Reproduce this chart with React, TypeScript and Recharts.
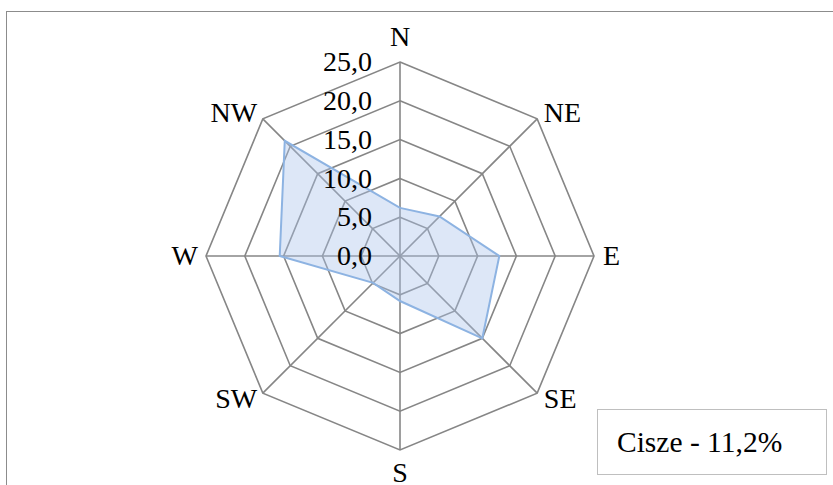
import React from 'react';
import { RadarChart, Radar, PolarGrid, PolarAngleAxis, PolarRadiusAxis } from 'recharts';

const directions = ['N', 'NE', 'E', 'SE', 'S', 'SW', 'W', 'NW'];
const frequencies = [6.2, 7.2, 12.8, 15.0, 5.8, 4.9, 15.5, 21.0];
const radiusTicks = [0, 5, 10, 15, 20, 25];
const calmLabel = 'Cisze - 11,2%';

const data = directions.map((d, i) => ({ dir: d, value: frequencies[i] }));

const FONT = 'Liberation Serif, Times New Roman, serif';
const FS = 28;

const fmt = (v: number) => v.toFixed(1).replace('.', ',');

const AngleTick = (props: any) => {
  const { x, y, payload, index } = props;
  const i = typeof index === 'number' ? index : directions.indexOf(payload?.value);
  const a = ((90 - 45 * i) * Math.PI) / 180;
  const dx = Math.cos(a);
  const dy = -Math.sin(a);
  let anchor: 'start' | 'middle' | 'end' = 'middle';
  if (dx > 0.1) anchor = 'start';
  else if (dx < -0.1) anchor = 'end';
  const tx = x + (dx > 0.1 ? 1 : 0);
  let cyv = y;
  if (Math.abs(dx) < 0.1) cyv = y + dy * (dy > 0 ? 15 : 17);
  return (
    <text
      x={tx}
      y={cyv + FS * 0.33}
      textAnchor={anchor}
      style={{ fontFamily: FONT, fontSize: FS }}
      fill="#000"
    >
      {payload.value}
    </text>
  );
};

const RadiusTick = (props: any) => {
  const { x, y, payload } = props;
  return (
    <text
      x={x - 28}
      y={y + FS * 0.33}
      textAnchor="end"
      style={{ fontFamily: FONT, fontSize: FS }}
      fill="#000"
    >
      {fmt(Number(payload.value))}
    </text>
  );
};

export default function App() {
  return (
    <div style={{ position: 'absolute', left: 0, top: 0, width: 833, height: 485, background: '#fff', overflow: 'hidden' }}>
      <div
        style={{
          position: 'absolute',
          left: 6,
          top: 11,
          width: 840,
          height: 500,
          borderTop: '1px solid #8c8c8c',
          borderLeft: '1px solid #8c8c8c',
        }}
      />
      <div style={{ position: 'absolute', left: 0, top: 0 }}>
        <RadarChart
          width={833}
          height={485}
          data={data}
          cx={400}
          cy={256}
          outerRadius={194}
          startAngle={90}
          endAngle={-270}
          margin={{ top: 0, right: 0, bottom: 0, left: 0 }}
        >
          <PolarGrid gridType="polygon" stroke="#868686" strokeWidth={1.6} strokeOpacity={1} />
          <PolarAngleAxis dataKey="dir" tick={<AngleTick />} tickLine={false} axisLine={false} />
          <PolarRadiusAxis
            angle={90}
            domain={[0, 25]}
            ticks={radiusTicks}
            tickCount={6}
            axisLine={false}
            tick={<RadiusTick />}
            tickLine={false}
          />
          <Radar
            dataKey="value"
            stroke="#8db3e2"
            strokeWidth={2}
            fill="#a9c4eb"
            fillOpacity={0.4}
            isAnimationActive={false}
            dot={false}
          />
        </RadarChart>
      </div>
      <div
        style={{
          position: 'absolute',
          left: 597,
          top: 409,
          width: 230,
          height: 66,
          border: '1px solid #bfbfbf',
          boxSizing: 'border-box',
          background: '#fff',
        }}
      >
        <div
          style={{
            position: 'absolute',
            left: 19,
            top: 0,
            height: 66,
            lineHeight: '64px',
            fontFamily: FONT,
            fontSize: 29.5,
            color: '#000',
            whiteSpace: 'nowrap',
          }}
        >
          {calmLabel}
        </div>
      </div>
    </div>
  );
}
